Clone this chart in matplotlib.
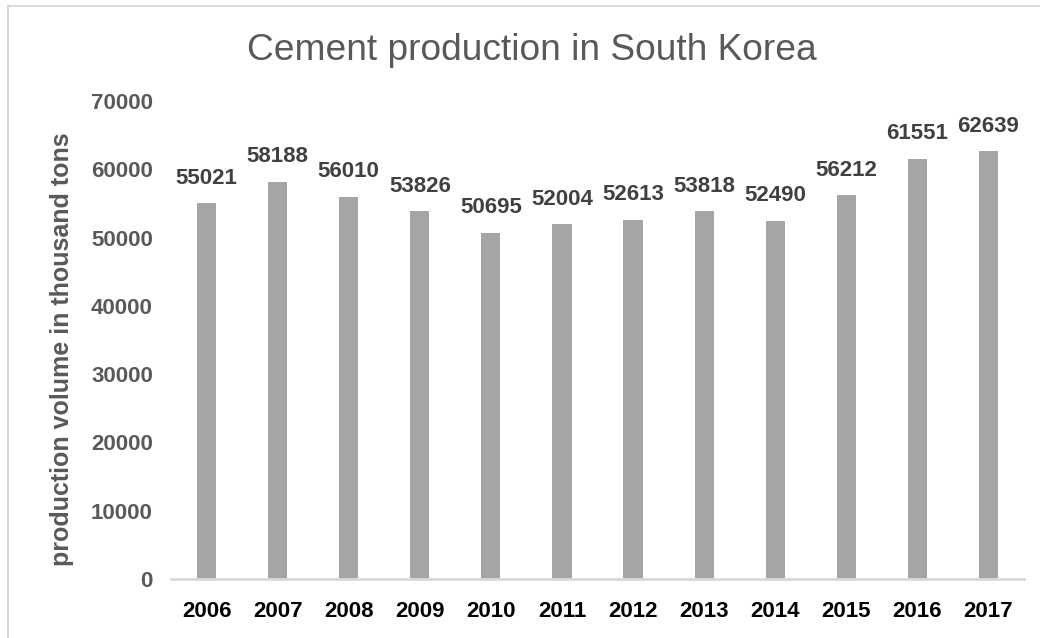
import matplotlib.pyplot as plt
from matplotlib.lines import Line2D

# data
years = ['2006', '2007', '2008', '2009', '2010', '2011',
         '2012', '2013', '2014', '2015', '2016', '2017']
production = [55021, 58188, 56010, 53826, 50695, 52004,
              52613, 53818, 52490, 56212, 61551, 62639]
yticks = [0, 10000, 20000, 30000, 40000, 50000, 60000, 70000]

plt.rcParams['font.family'] = ['Liberation Sans', 'DejaVu Sans']

fig = plt.figure(figsize=(10.4, 6.38), dpi=100)
# axes area in pixels: x 171..1024, y 101..579
W, H = 1040, 638
ax = fig.add_axes([171 / W, 1 - 579 / H, (1024 - 171) / W, (579 - 101) / H])

bars = ax.bar(years, production, width=0.27, color='#a5a5a5')
ax.set_xlim(-0.5, len(years) - 0.5)
ax.set_ylim(0, 70000)
ax.set_yticks(yticks)

# data labels
for b, v in zip(bars, production):
    ax.text(b.get_x() + b.get_width() / 2, v + 2100, str(v),
            ha='center', va='bottom', fontsize=16, fontweight='bold',
            color='#404040')

for s in ['top', 'right', 'left']:
    ax.spines[s].set_visible(False)
ax.spines['bottom'].set_color('#d9d9d9')
ax.spines['bottom'].set_linewidth(2)
ax.tick_params(axis='both', length=0)
ax.tick_params(axis='y', labelsize=16, labelcolor='#595959', pad=13)
ax.tick_params(axis='x', labelsize=16, labelcolor='#000000', pad=16)
for lbl in ax.get_xticklabels() + ax.get_yticklabels():
    lbl.set_fontweight('bold')

fig.text(62 / W, 1 - 349 / H, 'production volume in thousand tons',
         rotation=90, ha='center', va='center', fontsize=18,
         fontweight='bold', color='#595959')
fig.text(532 / W, 1 - 50 / H, 'Cement production in South Korea',
         ha='center', va='center', fontsize=26.7, color='#595959')

# outer chart border (top and left)
fig.add_artist(Line2D([8 / W, 8 / W], [0, 1 - 6 / H], transform=fig.transFigure,
                      color='#d9d9d9', linewidth=1.5))
fig.add_artist(Line2D([8 / W, 1], [1 - 6 / H, 1 - 6 / H], transform=fig.transFigure,
                      color='#d9d9d9', linewidth=1.5))

fig.savefig('out.png', dpi=100)
